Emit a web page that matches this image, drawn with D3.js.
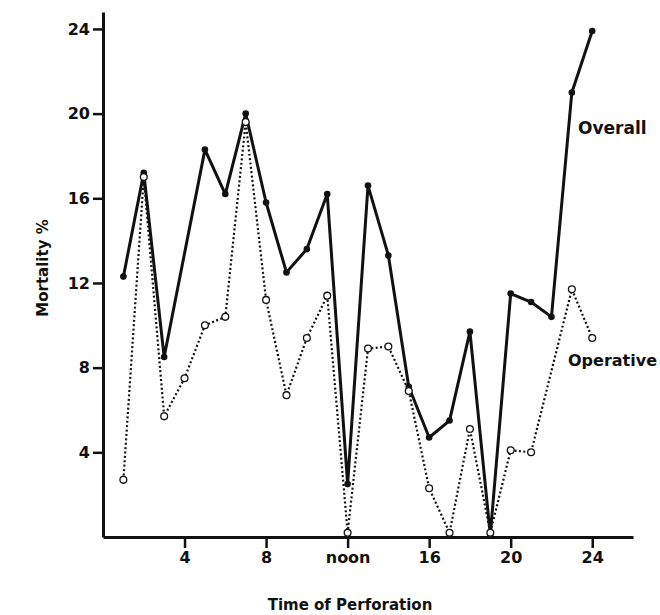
<!DOCTYPE html>
<html>
<head>
<meta charset="utf-8">
<script src="https://cdn.jsdelivr.net/npm/d3@7"></script>
<style>
body { margin: 0; background: #fff; }
text { font-family: "DejaVu Sans", sans-serif; font-weight: bold; fill: #111; }
</style>
</head>
<body>
<div id="vis"></div>
<script>
// hours of the day
var hours = [1, 2, 3, 4, 5, 6, 7, 8, 9, 10, 11, 12, 13, 14, 15, 16, 17, 18, 19, 20, 21, 22, 23, 24];

// overall mortality %, null = no point plotted
var overall = [12.3, 17.2, 8.5, null, 18.3, 16.2, 20.0, 15.8, 12.5, 13.6, 16.2, 2.5,
    16.6, 13.3, 7.1, 4.7, 5.5, 9.7, 0.1, 11.5, 11.1, 10.4, 21.0, 23.9];

// operative mortality %
var operative = [2.7, 17.0, 5.7, 7.5, 10.0, 10.4, 19.6, 11.2, 6.7, 9.4, 11.4, 0.2,
    8.9, 9.0, 6.9, 2.3, 0.2, 5.1, 0.2, 4.1, 4.0, null, 11.7, 9.4];

var xTicks = [4, 8, 12, 16, 20, 24];
var xTickLabels = ["4", "8", "noon", "16", "20", "24"];
var yTicks = [4, 8, 12, 16, 20, 24];

var width = 660, height = 615;

var svg = d3.select("#vis")
    .append("svg")
    .attr("width", width)
    .attr("height", height);

var x_scale = d3.scaleLinear()
    .domain([0, 26])
    .range([103, 633]);

var y_scale = d3.scaleLinear()
    .domain([0, 24.8])
    .range([537, 12]);

var x_axis = d3.axisBottom(x_scale)
    .tickValues(xTicks)
    .tickSizeInner(11)
    .tickSizeOuter(0)
    .tickPadding(4)
    .tickFormat(function (d, i) { return xTickLabels[i]; });

var y_axis = d3.axisLeft(y_scale)
    .tickValues(yTicks)
    .tickSizeInner(10)
    .tickSizeOuter(0)
    .tickPadding(3)
    .tickFormat(d3.format("d"));

svg.append("g")
    .attr("class", "x axis")
    .attr("transform", "translate(0," + y_scale(0) + ")")
    .call(x_axis);

svg.append("g")
    .attr("class", "y axis")
    .attr("transform", "translate(" + x_scale(0) + ",0)")
    .call(y_axis);

svg.selectAll(".axis path")
    .attr("stroke", "#111")
    .attr("stroke-width", 3);
svg.selectAll(".axis line")
    .attr("stroke", "#111")
    .attr("stroke-width", 2.5);
svg.selectAll(".axis text")
    .style("font-size", "16px")
    .attr("fill", "#111");

// axis titles
svg.append("text")
    .attr("x", 350)
    .attr("y", 610)
    .attr("text-anchor", "middle")
    .style("font-size", "15px")
    .text("Time of Perforation");

svg.append("text")
    .attr("transform", "translate(48,268) rotate(-90)")
    .attr("text-anchor", "middle")
    .style("font-size", "15px")
    .text("Mortality %");

function points(vals) {
    return hours.map(function (h, i) { return { h: h, v: vals[i] }; })
        .filter(function (d) { return d.v !== null; });
}

var line = d3.line()
    .x(function (d) { return x_scale(d.h); })
    .y(function (d) { return y_scale(d.v); });

var opData = points(operative);
var ovData = points(overall);

// operative - dotted with open circles
svg.append("path")
    .datum(opData)
    .attr("fill", "none")
    .attr("stroke", "#111")
    .attr("stroke-width", 2.2)
    .attr("stroke-dasharray", "2,2.4")
    .attr("d", line);

// overall - solid with filled dots
svg.append("path")
    .datum(ovData)
    .attr("fill", "none")
    .attr("stroke", "#111")
    .attr("stroke-width", 3)
    .attr("stroke-linejoin", "round")
    .attr("d", line);

svg.selectAll(".ov")
    .data(ovData)
    .enter()
    .append("circle")
    .attr("class", "ov")
    .attr("cx", function (d) { return x_scale(d.h); })
    .attr("cy", function (d) { return y_scale(d.v); })
    .attr("r", 3.3)
    .attr("fill", "#111");

svg.selectAll(".op")
    .data(opData)
    .enter()
    .append("circle")
    .attr("class", "op")
    .attr("cx", function (d) { return x_scale(d.h); })
    .attr("cy", function (d) { return y_scale(d.v); })
    .attr("r", 3.4)
    .attr("fill", "#fff")
    .attr("stroke", "#111")
    .attr("stroke-width", 1.3);

// series labels
svg.append("text")
    .attr("x", 578)
    .attr("y", 134)
    .style("font-size", "17px")
    .text("Overall");

svg.append("text")
    .attr("x", 568)
    .attr("y", 366)
    .style("font-size", "16px")
    .text("Operative");
</script>
</body>
</html>
